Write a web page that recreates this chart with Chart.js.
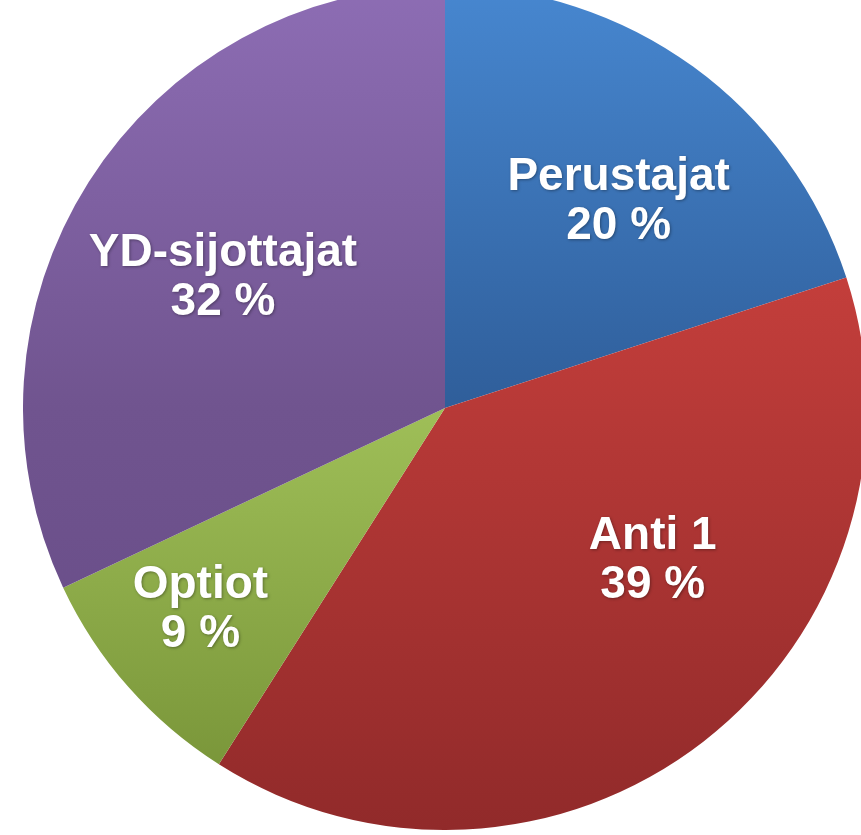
<!DOCTYPE html>
<html>
<head>
<meta charset="utf-8">
<script src="https://cdn.jsdelivr.net/npm/chart.js@4.4.1/dist/chart.umd.min.js"></script>
<style>
  html, body { margin: 0; padding: 0; background: #fff; overflow: hidden; width: 861px; height: 835px; }
  #wrap { position: absolute; left: 23px; top: -14px; width: 844px; height: 844px; }
</style>
</head>
<body>
<div id="wrap"><canvas id="pie" width="844" height="844"></canvas></div>
<script>
// data
const names = ['Perustajat', 'Anti 1', 'Optiot', 'YD-sijottajat'];
const shares = [20, 39, 9, 32];

// gradient stops per slice (top of pie -> bottom)
const sliceStops = [
    [[0, '#4787d0'], [0.5, '#2f5e9a'], [1, '#2a5288']],
    [[0, '#cc4542'], [0.35, '#c33e3b'], [1, '#912a2a']],
    [[0, '#a8c862'], [0.5, '#9fbf58'], [0.95, '#789438']],
    [[0, '#8d6db4'], [0.5, '#70548f'], [1, '#654a85']]
];

// label placement: fraction of radius and angle nudge (degrees)
const labelRadius = [0.64, 0.61, 0.75, 0.61];
const labelShift = [4, -16, 2, -2];

function sliceFill(ctx) {
    const chart = ctx.chart;
    const area = chart.chartArea;
    if (!area) return sliceStops[ctx.dataIndex][0][1];
    const g = chart.ctx.createLinearGradient(0, area.top, 0, area.bottom);
    sliceStops[ctx.dataIndex].forEach(s => g.addColorStop(s[0], s[1]));
    return g;
}

const pieLabels = {
    id: 'pieLabels',
    afterDatasetsDraw(chart) {
        const c = chart.ctx;
        const meta = chart.getDatasetMeta(0);
        c.save();
        c.font = 'bold 46px "Liberation Sans", Arial, sans-serif';
        c.fillStyle = '#ffffff';
        c.textAlign = 'center';
        c.textBaseline = 'middle';
        c.shadowColor = 'rgba(0,0,0,0.35)';
        c.shadowBlur = 3;
        c.shadowOffsetX = 1;
        c.shadowOffsetY = 1;
        meta.data.forEach((arc, i) => {
            const p = arc.getProps(['x', 'y', 'startAngle', 'endAngle', 'outerRadius'], true);
            const a = (p.startAngle + p.endAngle) / 2 + labelShift[i] * Math.PI / 180;
            const r = p.outerRadius * labelRadius[i];
            const lx = p.x + Math.cos(a) * r;
            const ly = p.y + Math.sin(a) * r;
            c.fillText(names[i], lx, ly - 24);
            c.fillText(shares[i] + ' %', lx, ly + 25);
        });
        c.restore();
    }
};

new Chart(document.getElementById('pie').getContext('2d'), {
    type: 'pie',
    data: {
        labels: names,
        datasets: [{
            data: shares,
            backgroundColor: sliceFill,
            borderWidth: 0
        }]
    },
    options: {
        responsive: false,
        animation: false,
        layout: { padding: 0 },
        plugins: { legend: { display: false }, tooltip: { enabled: false } }
    },
    plugins: [pieLabels]
});
</script>
</body>
</html>
